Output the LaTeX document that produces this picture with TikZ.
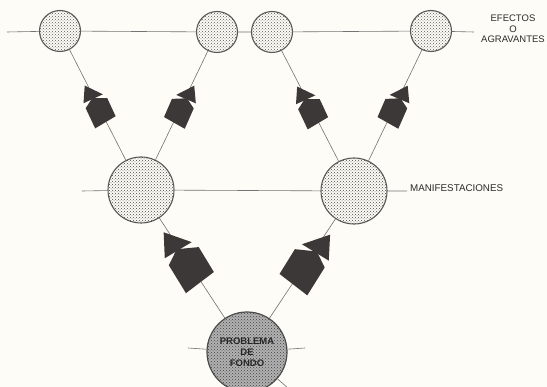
\documentclass[tikz,border=0pt]{standalone}
\usepackage{fontspec}
\setmainfont{Liberation Sans}
\usetikzlibrary{patterns,calc}
\definecolor{bgc}{RGB}{253,252,246}
\definecolor{ink}{RGB}{60,56,56}
\definecolor{txt}{RGB}{45,43,43}
\newcommand{\tangarrow}[4]{%
  \begin{scope}[shift={(#1)}, xscale=#3, rotate=#2, scale=#4]
    \fill[ink] (-27,-34) -- (-26,-8) -- (1,-24) -- cycle;
    \fill[ink] (-14,-17) -- (8,-19) -- (23,6) -- (-5,27) -- (-22,-1) -- cycle;
  \end{scope}}
\begin{document}
\begin{tikzpicture}[x=1pt,y=-1pt,
  conn/.style={draw=black!55, line width=0.6pt},
  smallc/.style={circle, draw=black!65, line width=1.1pt, preaction={fill=bgc}, pattern=crosshatch dots, pattern color=black!65, inner sep=0pt, minimum size=41pt},
  midc/.style={circle, draw=black!65, line width=1.1pt, preaction={fill=bgc}, pattern=crosshatch dots, pattern color=black!72, inner sep=0pt, minimum size=66pt},
  bigc/.style={circle, draw=black!70, line width=1.2pt, preaction={fill=black!30}, pattern=crosshatch dots, pattern color=black!75, inner sep=0pt, minimum size=80pt},
  lab/.style={text=txt, font=\fontsize{9.5}{10.5}\selectfont, align=center, inner sep=0pt}
]
\fill[bgc] (0,0) rectangle (547,387);
\useasboundingbox (0,0) rectangle (547,387);

% circles
\node[smallc] (t1) at (60,31) {};
\node[smallc] (t2) at (217,32) {};
\node[smallc] (t3) at (272,32) {};
\node[smallc] (t4) at (431,31) {};
\node[midc] (m1) at (141,190) {};
\node[midc] (m2) at (354,191) {};
\node[bigc, text=black!85, font=\bfseries\fontsize{9.5}{11}\selectfont, align=center] (b) at (247,352) {PROBLEMA\\DE\\FONDO};

% labels
\node[lab] (efectos) at (513,29) {EFECTOS\\O\\AGRAVANTES};
\node[lab, anchor=west, font=\fontsize{9.8}{11}\selectfont] (manif) at (410,188) {MANIFESTACIONES};

% free ends
\coordinate (tl) at (7,32);
\coordinate (tr) at (474,32);
\coordinate (ml) at (82,191);
\coordinate (mr) at (407,191);
\coordinate (bl) at (188,348);
\coordinate (br) at (305,348);
\coordinate (bd) at (289,389);

% connectors
\draw[conn] (b) -- (m1);
\draw[conn] (b) -- (m2);
\draw[conn] (m1) -- (t1);
\draw[conn] (m1) -- (t2);
\draw[conn] (m2) -- (t3);
\draw[conn] (m2) -- (t4);
\draw[conn] (tl) -- (t1) -- (t2) -- (t3) -- (t4) -- (tr);
\draw[conn] (ml) -- (m1) -- (m2) -- (mr);
\draw[conn] (bl) -- (b) -- (br);
\draw[conn] (b) -- (bd);

% arrows
\tangarrow{$(m1.center)!0.47!(b.center)$}{0.3}{1}{1}
\tangarrow{$(m2.center)!0.48!(b.center)$}{0.8}{-1}{1}
\tangarrow{$(t1.center)!0.5!(m1.center)$}{-6.1}{1}{0.68}
\tangarrow{$(t2.center)!0.5!(m1.center)$}{-7.4}{-1}{0.68}
\tangarrow{$(t3.center)!0.5!(m2.center)$}{-6}{1}{0.68}
\tangarrow{$(t4.center)!0.5!(m2.center)$}{-7.5}{-1}{0.68}
\end{tikzpicture}
\end{document}
